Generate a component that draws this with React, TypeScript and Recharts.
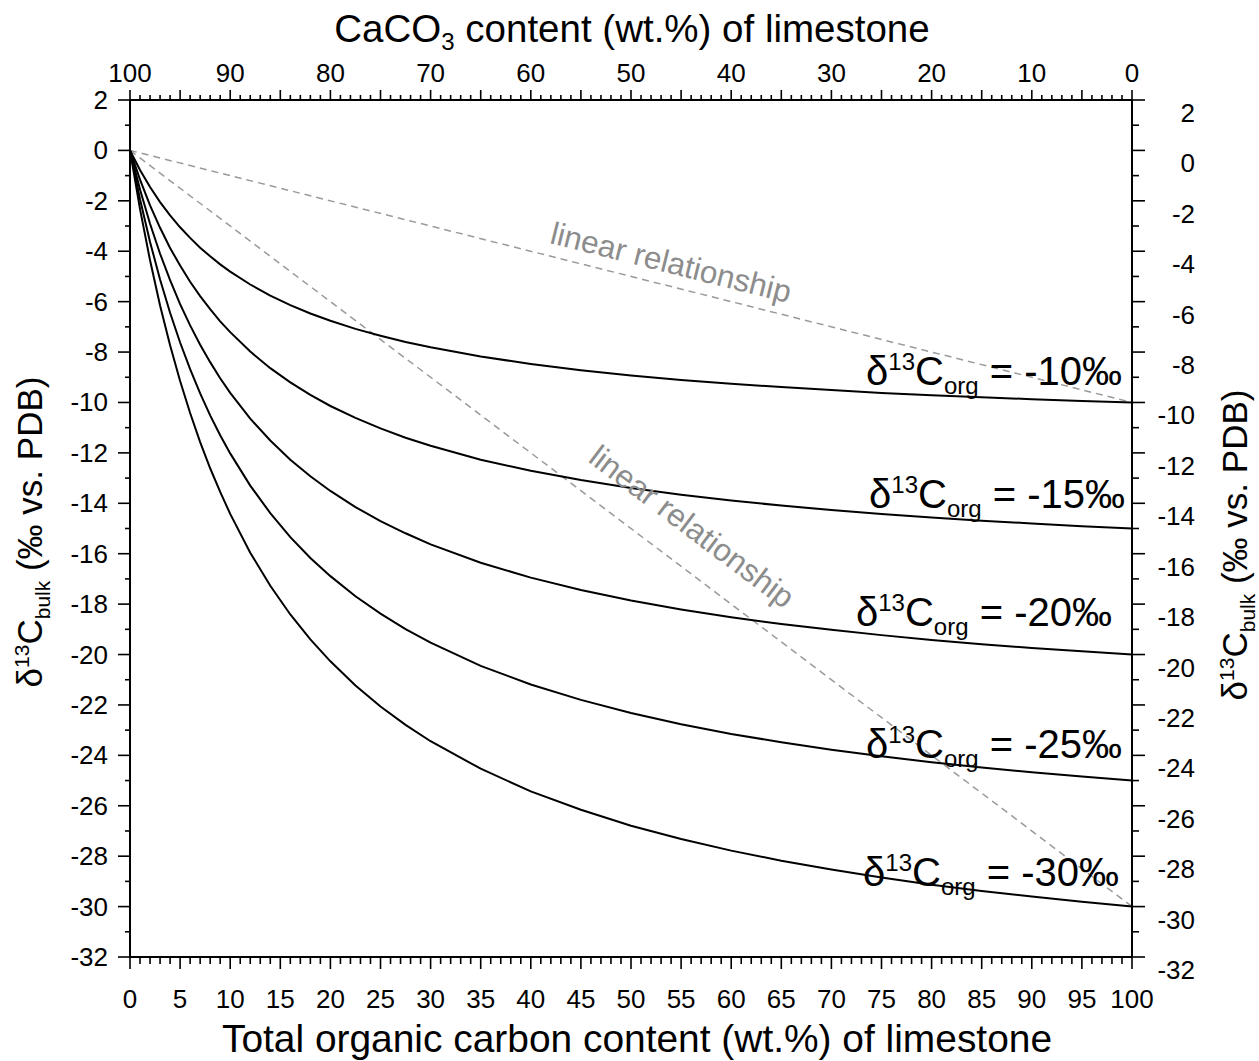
import { LineChart, Line, XAxis, YAxis, ReferenceDot } from "recharts";

const FONT = "'Liberation Sans', Arial, Helvetica, sans-serif";

// total organic carbon content (wt.%)
const TOC = [
  0, 1, 2, 3, 4, 5, 6, 7, 8, 9, 10, 12, 14, 16, 18, 20, 22.5, 25, 27.5, 30, 35,
  40, 45, 50, 55, 60, 65, 70, 75, 80, 85, 90, 95, 100,
];

// d13C bulk, one list per d13C org value
const C10 = [
  0, -0.78, -1.45, -2.05, -2.58, -3.05, -3.47, -3.86, -4.2, -4.52, -4.81, -5.32,
  -5.76, -6.14, -6.47, -6.76, -7.08, -7.35, -7.6, -7.81, -8.18, -8.47, -8.72,
  -8.93, -9.11, -9.26, -9.39, -9.51, -9.62, -9.71, -9.79, -9.87, -9.94, -10,
];
const C15 = [
  0, -1.16, -2.18, -3.07, -3.87, -4.57, -5.21, -5.78, -6.3, -6.78, -7.21, -7.98,
  -8.64, -9.2, -9.7, -10.14, -10.61, -11.03, -11.4, -11.72, -12.27, -12.71,
  -13.08, -13.39, -13.66, -13.89, -14.09, -14.27, -14.42, -14.56, -14.69, -14.8,
  -14.91, -15,
];
const C20 = [
  0, -1.55, -2.91, -4.1, -5.15, -6.1, -6.94, -7.71, -8.4, -9.04, -9.62, -10.64,
  -11.51, -12.27, -12.93, -13.51, -14.15, -14.71, -15.19, -15.63, -16.36, -16.95,
  -17.44, -17.86, -18.21, -18.52, -18.79, -19.02, -19.23, -19.42, -19.59, -19.74,
  -19.87, -20,
];
const C25 = [
  0, -1.94, -3.63, -5.12, -6.44, -7.62, -8.68, -9.64, -10.51, -11.3, -12.02,
  -13.3, -14.39, -15.34, -16.17, -16.89, -17.69, -18.38, -18.99, -19.53, -20.45,
  -21.19, -21.8, -22.32, -22.77, -23.15, -23.48, -23.78, -24.04, -24.27, -24.48,
  -24.67, -24.84, -25,
];
const C30 = [
  0, -2.33, -4.36, -6.15, -7.73, -9.15, -10.42, -11.57, -12.61, -13.55, -14.42,
  -15.96, -17.27, -18.41, -19.4, -20.27, -21.23, -22.06, -22.79, -23.44, -24.53,
  -25.43, -26.16, -26.79, -27.32, -27.78, -28.18, -28.53, -28.85, -29.13, -29.38,
  -29.6, -29.81, -30,
];

// the two dashed "linear relationship" lines, values at TOC 0 and 100
const LIN_A = [0, -10];
const LIN_B = [0, -30];

const CURVES = [
  { key: "c10", values: C10 },
  { key: "c15", values: C15 },
  { key: "c20", values: C20 },
  { key: "c25", values: C25 },
  { key: "c30", values: C30 },
];

const X_TICKS = Array.from({ length: 101 }, (_, i) => i);
const Y_TICKS = Array.from({ length: 35 }, (_, i) => i - 32);

const CURVE_LABELS = [
  { text: "-10", x: 99.0, y: -9.29 },
  { text: "-15", x: 99.3, y: -14.2 },
  { text: "-20", x: 98.0, y: -18.85 },
  { text: "-25", x: 99.0, y: -24.12 },
  { text: "-30", x: 98.7, y: -29.17 },
];

const LINEAR_LABELS = [
  { x: 54.0, y: -4.44, angle: 14.1 },
  { x: 56.1, y: -14.92, angle: 37 },
];

const last = TOC.length - 1;
const rows = TOC.map((toc, i) => {
  const row: any = { toc };
  CURVES.forEach((c) => (row[c.key] = c.values[i]));
  row.linA = i === 0 ? LIN_A[0] : i === last ? LIN_A[1] : null;
  row.linB = i === 0 ? LIN_B[0] : i === last ? LIN_B[1] : null;
  return row;
});

const tickLine = { stroke: "#000", strokeWidth: 1.6 };
const tickText = { fontFamily: FONT, fontSize: 26, fill: "#000" };
const axisLine = { stroke: "#000", strokeWidth: 2 };

const BottomTick = ({ x, y, payload }: any) => {
  const v = payload.value;
  const major = v % 5 === 0;
  return (
    <g>
      <line x1={x} x2={x} y1={y} y2={y + (major ? 12 : 7)} {...tickLine} />
      {major && (
        <text x={x} y={y + 51} textAnchor="middle" {...tickText}>
          {v}
        </text>
      )}
    </g>
  );
};

const TopTick = ({ x, y, payload }: any) => {
  const v = payload.value;
  const major = v % 5 === 0;
  return (
    <g>
      <line x1={x} x2={x} y1={y} y2={y - (major ? 10 : 5)} {...tickLine} />
      {v % 10 === 0 && (
        <text x={x} y={y - 18} textAnchor="middle" {...tickText}>
          {100 - v}
        </text>
      )}
    </g>
  );
};

const LeftTick = ({ x, y, payload }: any) => {
  const v = payload.value;
  const major = v % 2 === 0;
  return (
    <g>
      <line x1={x} x2={x - (major ? 12 : 5)} y1={y} y2={y} {...tickLine} />
      {major && (
        <text x={x - 22} y={y + 9} textAnchor="end" {...tickText}>
          {v}
        </text>
      )}
    </g>
  );
};

const RightTick = ({ x, y, payload }: any) => {
  const v = payload.value;
  const major = v % 2 === 0;
  return (
    <g>
      <line x1={x} x2={x + (major ? 13 : 7)} y1={y} y2={y} {...tickLine} />
      {major && (
        <text x={x + 63} y={y + 22} textAnchor="end" {...tickText}>
          {v}
        </text>
      )}
    </g>
  );
};

const curveLabel = (text: string) => (p: any) => {
  const vb = p.viewBox || p;
  return (
    <text x={vb.x} y={vb.y} textAnchor="end" fontFamily={FONT} fontSize={40} fill="#000">
      <tspan>δ</tspan>
      <tspan dy={-15} fontSize={24}>13</tspan>
      <tspan dy={15}>C</tspan>
      <tspan dy={9} fontSize={24}>org</tspan>
      <tspan dy={-9}>{` = ${text}‰`}</tspan>
    </text>
  );
};

const linearLabel = (angle: number) => (p: any) => {
  const vb = p.viewBox || p;
  return (
    <text
      x={vb.x}
      y={vb.y}
      transform={`rotate(${angle} ${vb.x} ${vb.y})`}
      textAnchor="middle"
      dominantBaseline="central"
      fontFamily={FONT}
      fontSize={31.5}
      fill="#8c8c8c"
    >
      linear relationship
    </text>
  );
};

const YTitle = ({ x, y }: { x: number; y: number }) => (
  <text x={x} y={y} transform={`rotate(-90 ${x} ${y})`} textAnchor="middle" fontFamily={FONT} fontSize={35} fill="#000">
    <tspan>δ</tspan>
    <tspan dy={-13} fontSize={21}>13</tspan>
    <tspan dy={13}>C</tspan>
    <tspan dy={8} fontSize={21}>bulk</tspan>
    <tspan dy={-8}> (‰ vs. PDB)</tspan>
  </text>
);

const App = () => (
  <div style={{ position: "absolute", left: 0, top: 0, width: 1259, height: 1061, background: "#fff" }}>
    <LineChart
      width={1259}
      height={1061}
      data={rows}
      margin={{ top: 99, right: 126, bottom: 103, left: 129 }}
    >
      <XAxis
        xAxisId="bottom"
        dataKey="toc"
        type="number"
        domain={[0, 100]}
        ticks={X_TICKS}
        interval={0}
        height={1}
        tickSize={0}
        tickMargin={0}
        tick={BottomTick}
        axisLine={axisLine}
      />
      <XAxis
        xAxisId="top"
        orientation="top"
        dataKey="toc"
        type="number"
        domain={[0, 100]}
        ticks={X_TICKS}
        interval={0}
        height={1}
        tickSize={0}
        tickMargin={0}
        tick={TopTick}
        axisLine={axisLine}
      />
      <YAxis
        yAxisId="left"
        type="number"
        domain={[-32, 2]}
        ticks={Y_TICKS}
        interval={0}
        width={1}
        tickSize={0}
        tickMargin={0}
        tick={LeftTick}
        axisLine={axisLine}
      />
      <YAxis
        yAxisId="right"
        orientation="right"
        dataKey="c30"
        type="number"
        domain={[-32, 2]}
        allowDataOverflow
        ticks={Y_TICKS}
        interval={0}
        width={1}
        tickSize={0}
        tickMargin={0}
        tick={RightTick}
        axisLine={axisLine}
      />
      {["linA", "linB"].map((k) => (
        <Line
          key={k}
          xAxisId="bottom"
          yAxisId="left"
          dataKey={k}
          type="linear"
          connectNulls
          stroke="#9a9a9a"
          strokeWidth={1.5}
          strokeDasharray="7 5"
          dot={false}
          isAnimationActive={false}
        />
      ))}
      {CURVES.map((c) => (
        <Line
          key={c.key}
          xAxisId="bottom"
          yAxisId="left"
          dataKey={c.key}
          type="linear"
          stroke="#000"
          strokeWidth={2}
          dot={false}
          isAnimationActive={false}
        />
      ))}
      {CURVE_LABELS.map((l) => (
        <ReferenceDot
          key={l.text}
          xAxisId="bottom"
          yAxisId="left"
          x={l.x}
          y={l.y}
          r={0}
          fill="none"
          stroke="none"
          label={curveLabel(l.text)}
        />
      ))}
      {LINEAR_LABELS.map((l, i) => (
        <ReferenceDot
          key={i}
          xAxisId="bottom"
          yAxisId="left"
          x={l.x}
          y={l.y}
          r={0}
          fill="none"
          stroke="none"
          label={linearLabel(l.angle)}
        />
      ))}
    </LineChart>
    <svg
      width={1259}
      height={1061}
      style={{ position: "absolute", left: 0, top: 0, pointerEvents: "none" }}
    >
      <text x={632} y={42} textAnchor="middle" fontFamily={FONT} fontSize={38.5} fill="#000">
        <tspan>CaCO</tspan>
        <tspan dy={8} fontSize={24}>3</tspan>
        <tspan dy={-8}> content (wt.%) of limestone</tspan>
      </text>
      <text x={637} y={1052} textAnchor="middle" fontFamily={FONT} fontSize={38.9} fill="#000">
        Total organic carbon content (wt.%) of limestone
      </text>
      <YTitle x={42} y={532} />
      <YTitle x={1247} y={545} />
    </svg>
  </div>
);

export default App;
